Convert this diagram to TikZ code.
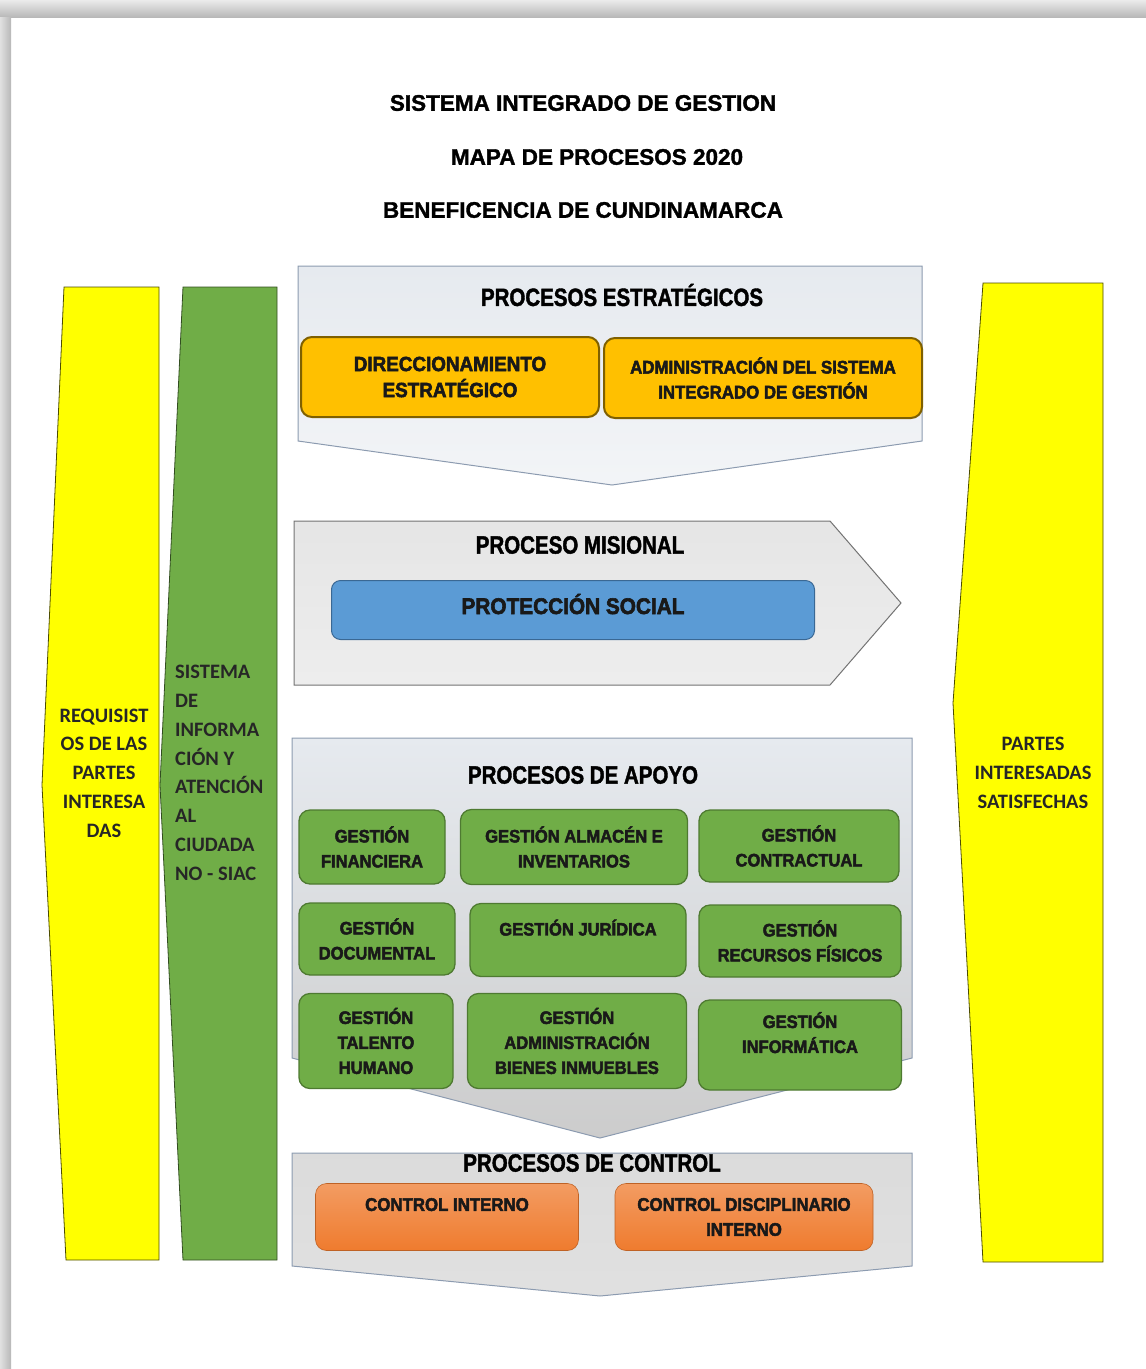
\documentclass[tikz,border=0pt]{standalone}
\usepackage{fontspec}
\setmainfont{Liberation Sans}
\newfontfamily\titlefont[FakeBold=1.5]{Liberation Sans Bold}
\newfontfamily\headfont[FakeStretch=0.82,FakeBold=1.6]{Liberation Sans Bold}
\newfontfamily\boxfont[FakeStretch=0.92,FakeBold=2.6]{Liberation Sans Bold}
\newfontfamily\sidefont{Carlito}
\definecolor{gold}{HTML}{FFC000}
\definecolor{goldline}{HTML}{7F6000}
\definecolor{gbox}{HTML}{70AD47}
\definecolor{gline}{HTML}{4E7A31}
\definecolor{bbox}{HTML}{5B9BD5}
\definecolor{bline}{HTML}{3A6894}
\definecolor{obox}{HTML}{EF7B2E}
\definecolor{blk}{HTML}{8C9BB0}
\definecolor{ylw}{HTML}{FFFF00}
\definecolor{bar}{HTML}{70AD47}
\definecolor{stratfill}{HTML}{E6EAEF}
\begin{document}
\begin{tikzpicture}[x=1pt,y=-1pt,
  title/.style={font=\titlefont\fontsize{22.5}{26}\selectfont},
  head/.style={font=\headfont\fontsize{25}{28}\selectfont},
  boxtxt/.style={align=center,font=\boxfont\fontsize{18}{25}\selectfont,text=black!90},
  stratbox/.style={boxtxt,draw=goldline,line width=2pt,fill=gold,rounded corners=11pt},
  greenbox/.style={boxtxt,draw=gline,line width=1.3pt,fill=gbox,rounded corners=11pt},
  ctrlbox/.style={boxtxt,draw=obox!80!black,line width=0.6pt,top color=obox!75!white,bottom color=obox,rounded corners=11pt},
  blockshape/.style={draw=blk,line width=1pt,top color=stratfill,bottom color=stratfill!50!white},
  sidetxt/.style={font=\sidefont\fontsize{20.5}{28.8}\selectfont\bfseries,text=black!85}
]
\useasboundingbox (0,0) rectangle (1146,1369);
% page frame
\shade[top color=black!8,bottom color=black!28] (0,0) rectangle (1146,17);
\shade[left color=black!12,right color=black!28] (0,17) rectangle (11,1369);

% titles
\node[title] (t1) at (583,103) {SISTEMA INTEGRADO DE GESTION};
\node[title] (t2) at (597,157) {MAPA DE PROCESOS 2020};
\node[title] (t3) at (583,210) {BENEFICENCIA DE CUNDINAMARCA};

% side bars
\draw[fill=ylw,draw=black!70!ylw,line width=0.8pt] (64,287) -- (159,287) -- (159,1260) -- (66,1260) -- (42,785) -- cycle;
\draw[fill=bar,draw=black!55!bar,line width=0.8pt] (183,287) -- (277,287) -- (277,1260) -- (183,1260) -- (160,785) -- cycle;
\draw[fill=ylw,draw=black!70!ylw,line width=0.8pt] (983,283) -- (1103,283) -- (1103,1262) -- (983,1262) -- (953,703) -- cycle;

\node[sidetxt,align=center] (req) at (104,773) {REQUISIST\\OS DE LAS\\PARTES\\INTERESA\\DAS};
\node[sidetxt,align=left,anchor=north west,inner sep=0pt] (siac) at (175,665) {SISTEMA\\DE\\INFORMA\\CIÓN Y\\ATENCIÓN\\AL\\CIUDADA\\NO - SIAC};
\node[sidetxt,align=center] (sat) at (1033,773) {PARTES\\INTERESADAS\\SATISFECHAS};

% strategic block
\draw[blockshape] (298,266) -- (922,266) -- (922,441) -- (612,485) -- (298,441) -- cycle;
\node[head] (hs) at (622,295) {PROCESOS ESTRATÉGICOS};
\node[stratbox,minimum width=298,minimum height=80,font=\boxfont\fontsize{20.5}{26}\selectfont] (dir) at (450,377) {DIRECCIONAMIENTO\\ESTRATÉGICO};
\node[stratbox,minimum width=318,minimum height=80,font=\boxfont\fontsize{18.3}{25}\selectfont] (adm) at (763,378) {ADMINISTRACIÓN DEL SISTEMA\\INTEGRADO DE GESTIÓN};

% misional
\draw[draw=black!55,line width=1pt,top color=black!10,bottom color=black!7] (294,521) -- (830,521) -- (901,603) -- (830,685) -- (294,685) -- cycle;
\node[head] (hm) at (580,545) {PROCESO MISIONAL};
\node[boxtxt,draw=bline,line width=1pt,fill=bbox,rounded corners=9pt,minimum width=483,minimum height=59,text depth=12pt,font=\boxfont\fontsize{22.6}{26}\selectfont] (prot) at (573,610) {PROTECCIÓN SOCIAL};

% apoyo
\draw[blockshape,top color=stratfill,bottom color=black!20] (292,738) -- (912,738) -- (912,1058) -- (600,1138) -- (292,1058) -- cycle;
\node[head] (ha) at (583,775) {PROCESOS DE APOYO};
\node[greenbox,minimum width=146,minimum height=74] (fin) at (372,847) {GESTIÓN\\FINANCIERA};
\node[greenbox,minimum width=227,minimum height=75] (alm) at (574,847) {GESTIÓN ALMACÉN E\\INVENTARIOS};
\node[greenbox,minimum width=200,minimum height=72] (con) at (799,846) {GESTIÓN\\CONTRACTUAL};
\node[greenbox,minimum width=156,minimum height=72] (doc) at (377,939) {GESTIÓN\\DOCUMENTAL};
\node[greenbox,minimum width=216,minimum height=73] (jur) at (578,940) {GESTIÓN JURÍDICA\\\phantom{X}};
\node[greenbox,minimum width=202,minimum height=72] (rec) at (800,941) {GESTIÓN\\RECURSOS FÍSICOS};
\node[greenbox,minimum width=154,minimum height=95] (tal) at (376,1041) {GESTIÓN\\TALENTO\\HUMANO};
\node[greenbox,minimum width=219,minimum height=95] (bie) at (577,1041) {GESTIÓN\\ADMINISTRACIÓN\\BIENES INMUEBLES};
\node[greenbox,minimum width=203,minimum height=90] (inf) at (800,1045) {GESTIÓN\\INFORMÁTICA\\\phantom{X}};

% control
\draw[blockshape,top color=black!14,bottom color=black!12] (292,1153) -- (912,1153) -- (912,1266) -- (600,1296) -- (292,1266) -- cycle;
\node[head] (hc) at (592,1163) {PROCESOS DE CONTROL};
\node[ctrlbox,minimum width=263,minimum height=67,font=\boxfont\fontsize{18.3}{25}\selectfont] (ci) at (447,1217) {CONTROL INTERNO\\\phantom{X}};
\node[ctrlbox,minimum width=258,minimum height=67,font=\boxfont\fontsize{18.3}{25}\selectfont] (cd) at (744,1217) {CONTROL DISCIPLINARIO\\INTERNO};
\end{tikzpicture}
\end{document}
